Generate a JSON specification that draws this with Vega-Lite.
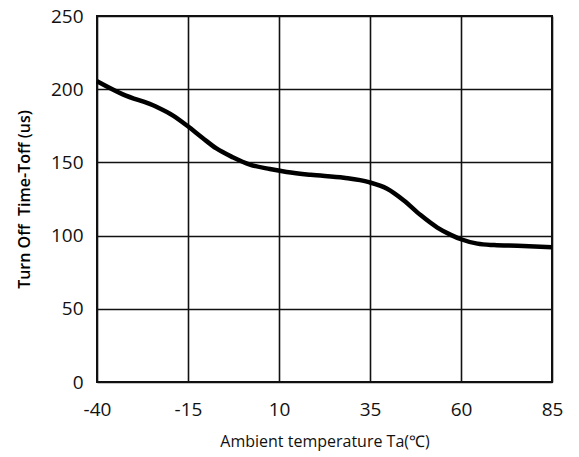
{
  "$schema": "https://vega.github.io/schema/vega-lite/v6.json",
  "width": 455,
  "height": 366,
  "autosize": {"type": "none"},
  "padding": {"left": 97, "top": 16, "right": 27, "bottom": 75},
  "background": "white",
  "config": {
    "font": "Open Sans",
    "view": {"stroke": "#111", "strokeWidth": 2}
  },
  "data": {
    "values": [
      {"t": -40, "toff": 205.5},
      {"t": -32.9, "toff": 196.5},
      {"t": -23.7, "toff": 188},
      {"t": -19.1, "toff": 182},
      {"t": -15.2, "toff": 175},
      {"t": -10.9, "toff": 166.5},
      {"t": -7.2, "toff": 159.5},
      {"t": -2.7, "toff": 153.5},
      {"t": 2, "toff": 148.5},
      {"t": 7.5, "toff": 145.5},
      {"t": 12.1, "toff": 143.5},
      {"t": 18.7, "toff": 141.5},
      {"t": 27.8, "toff": 139.5},
      {"t": 34.7, "toff": 136.5},
      {"t": 39.7, "toff": 132},
      {"t": 44.3, "toff": 124},
      {"t": 48.9, "toff": 114},
      {"t": 53.5, "toff": 105.5},
      {"t": 57.2, "toff": 100.5},
      {"t": 60, "toff": 97.5},
      {"t": 64.5, "toff": 94.5},
      {"t": 69.1, "toff": 93.5},
      {"t": 75.5, "toff": 93},
      {"t": 85, "toff": 92}
    ]
  },
  "mark": {"type": "line", "color": "#000", "strokeWidth": 4.5, "interpolate": "monotone"},
  "encoding": {
    "x": {
      "field": "t",
      "type": "quantitative",
      "scale": {"domain": [-40, 85], "nice": false, "zero": false},
      "axis": {
        "values": [-40, -15, 10, 35, 60, 85],
        "labelExpr": "toString(datum.value)",
        "labelFlush": false,
        "title": "Ambient temperature Ta(℃)",
        "titleFont": "Open Sans",
        "titleFontSize": 16,
        "titleFontWeight": "normal",
        "titleColor": "#111",
        "titlePadding": 14,
        "labelFontSize": 19,
        "labelColor": "#111",
        "labelPadding": 18,
        "ticks": false,
        "domain": false,
        "grid": true,
        "gridColor": "#111",
        "gridWidth": 1.6,
        "gridOpacity": 1
      }
    },
    "y": {
      "field": "toff",
      "type": "quantitative",
      "scale": {"domain": [0, 250], "nice": false},
      "axis": {
        "values": [0, 50, 100, 150, 200, 250],
        "title": "Turn Off\u00a0 Time-Toff (us)",
        "titleFont": "Open Sans",
        "titleFontSize": 16,
        "titleFontWeight": 600,
        "titleColor": "#000",
        "titlePadding": 18,
        "labelFontSize": 19,
        "labelColor": "#111",
        "labelPadding": 14,
        "ticks": false,
        "domain": false,
        "grid": true,
        "gridColor": "#111",
        "gridWidth": 1.6,
        "gridOpacity": 1
      }
    }
  }
}
